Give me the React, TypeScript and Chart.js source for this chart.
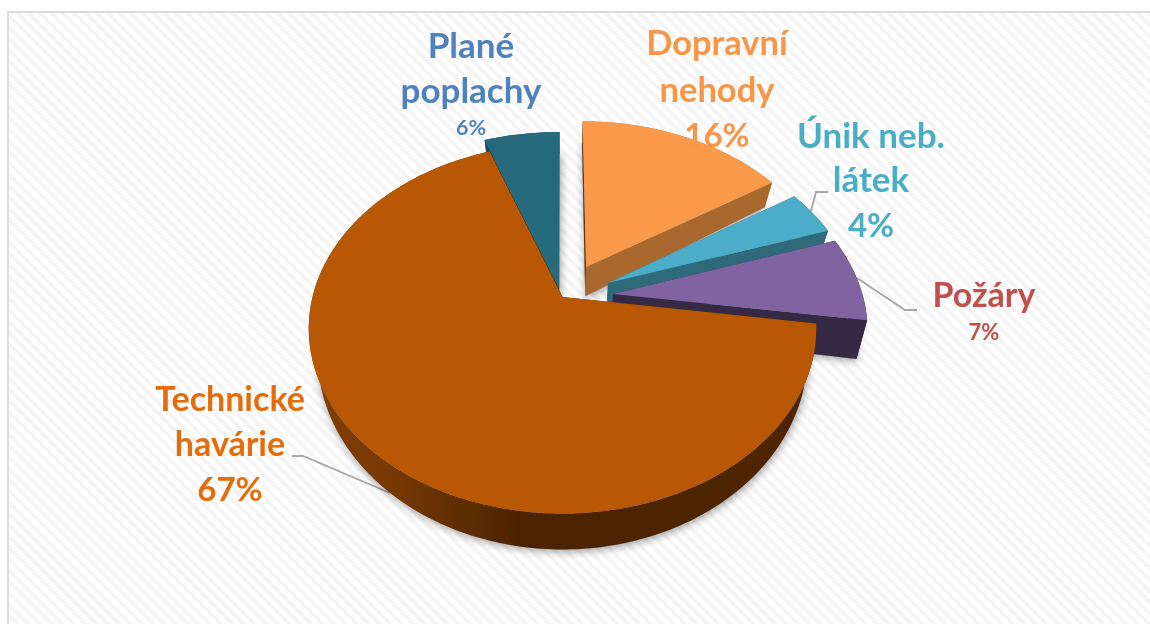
import React, { useEffect, useRef } from "react";
import Chart from "chart.js/auto";

const categories = ["Dopravní nehody", "Únik neb. látek", "Požáry", "Technické havárie", "Plané poplachy"];
const shares = [15.9, 4.0, 7.4, 67.2, 5.5];
const sliceColors = ["#fb994a", "#4badc7", "#8064a2", "#b85804", "#27697c"];

const labelColors = ["#f79646", "#4bacc6", "#c0504d", "#e46c0a", "#4f81bd"];

const slice3d = [
  { du: 0.097, dv: 0.172, scale: 1.003, depth: 31, startWall: "#5a3a1e", endWall: "#a8682e", outer: "#a8682e" },
  { du: 0.1845, dv: 0.079, scale: 1.0, depth: 32, startWall: "#2a5f6e", endWall: "#2f6a7a", outer: "#2f6a7a" },
  { du: 0.2026, dv: 0.0167, scale: 1.0, depth: 37, startWall: "#362944", endWall: "#362944", outer: "#362944" },
  { du: 0.0, dv: 0.0, scale: 1.0, depth: 24.7, startWall: "#5a2a02", endWall: "#5a2a02", outer: "gradient" },
  { du: -0.014, dv: 0.05, scale: 1.04, depth: 30, startWall: "#0f3a44", endWall: "#1a4c5a", outer: "#1a4c5a" },
];
const paintOrder = [4, 0, 1, 2, 3];

const view = { k: 0.171, squash: 0.718, converge: 0.035 };

const textBlocks = [
  { idx: 4, x: 471, lines: [["Plané", 47, 35], ["poplachy", 92, 35]], pct: [128, 21.5] },
  { idx: 0, x: 717, lines: [["Dopravní", 44, 34.5], ["nehody", 91, 34.5]], pct: [136, 33] },
  { idx: 1, x: 871, lines: [["Únik neb.", 137, 35], ["látek", 181, 35]], pct: [226, 33] },
  { idx: 2, x: 984, lines: [["Požáry", 296, 34]], pct: [333, 22] },
  { idx: 3, x: 230, lines: [["Technické", 400, 34], ["havárie", 445, 34]], pct: [490, 33] },
];
const leaders = [
  [[828, 192], [816, 192], [811, 211]],
  [[917, 310], [905, 310], [857, 278]],
  [[292, 456], [303, 456], [390, 493]],
];

const total = shares.reduce((a, b) => a + b, 0);

const pie3d = {
  id: "pie3d",
  beforeDatasetsDraw(chart: any) {
    const ctx = chart.ctx;
    const arcs = chart.getDatasetMeta(0).data;

    ctx.save();
    ctx.strokeStyle = "#a6a6a6";
    ctx.lineWidth = 1.8;
    for (const pts of leaders) {
      ctx.beginPath();
      pts.forEach((p, i) => (i ? ctx.lineTo(p[0], p[1]) : ctx.moveTo(p[0], p[1])));
      ctx.stroke();
    }
    ctx.restore();

    const proj = (arc: any, s: any, u: number, v: number, z: number) => {
      const R = arc.outerRadius;
      const uu = u + s.du;
      const vv = v + s.dv;
      const w = 1 + view.k * vv;
      const c = 1 - view.converge * z;
      return [
        arc.x + ((R * uu) / w) * c,
        arc.y - (R * view.squash * vv) / w + (z * s.depth) / (w * w),
      ];
    };
    const arcPts = (arc: any, s: any, z: number) => {
      const a0 = arc.startAngle + Math.PI / 2;
      const a1 = arc.endAngle + Math.PI / 2;
      const n = Math.max(8, Math.ceil((a1 - a0) * 60));
      const out = [];
      for (let i = 0; i <= n; i++) {
        const a = a0 + ((a1 - a0) * i) / n;
        out.push(proj(arc, s, Math.sin(a) * s.scale, Math.cos(a) * s.scale, z));
      }
      return out;
    };
    const fillPoly = (pts: number[][], fill: any) => {
      ctx.fillStyle = fill;
      ctx.beginPath();
      pts.forEach((p, i) => (i ? ctx.lineTo(p[0], p[1]) : ctx.moveTo(p[0], p[1])));
      ctx.closePath();
      ctx.fill();
    };

    // soft drop shadow on the page only
    ctx.save();
    ctx.shadowColor = "rgba(0,0,0,0.4)";
    ctx.shadowBlur = 9;
    ctx.shadowOffsetX = 1;
    ctx.shadowOffsetY = 2;
    for (const i of paintOrder) {
      const s = slice3d[i];
      const arc = arcs[i];
      fillPoly([proj(arc, s, 0, 0, 1), ...arcPts(arc, s, 1)], "#999");
    }
    ctx.restore();

    for (const i of paintOrder) {
      const s = slice3d[i];
      const arc = arcs[i];
      const top = arcPts(arc, s, 0);
      const bottom = arcPts(arc, s, 1);
      const tip0 = proj(arc, s, 0, 0, 0);
      const tip1 = proj(arc, s, 0, 0, 1);
      fillPoly([tip0, top[0], bottom[0], tip1], s.startWall);
      fillPoly([tip0, top[top.length - 1], bottom[bottom.length - 1], tip1], s.endWall);
      let outer: any = s.outer;
      if (outer === "gradient") {
        outer = ctx.createLinearGradient(arc.x - arc.outerRadius, 0, arc.x + arc.outerRadius, 0);
        outer.addColorStop(0, "#803e05");
        outer.addColorStop(0.15, "#783905");
        outer.addColorStop(0.3, "#5f2d03");
        outer.addColorStop(0.42, "#4b2300");
        outer.addColorStop(1, "#4f2500");
      }
      fillPoly([...top, ...bottom.slice().reverse()], outer);
      fillPoly([tip0, ...top], arc.options.backgroundColor);
    }
    return false;
  },
  afterDraw(chart: any) {
    const ctx = chart.ctx;
    ctx.save();
    ctx.textAlign = "center";
    ctx.textBaseline = "middle";
    for (const b of textBlocks) {
      ctx.fillStyle = labelColors[b.idx];
      for (const [text, y, size] of b.lines as any[]) {
        ctx.font = `bold ${size}px Lato`;
        ctx.fillText(text, b.x, y);
      }
      ctx.font = `bold ${b.pct[1]}px Lato`;
      ctx.fillText(`${Math.round((shares[b.idx] / total) * 100)}%`, b.x, b.pct[0]);
    }
    ctx.restore();
  },
};

export default function App() {
  const ref = useRef<HTMLCanvasElement | null>(null);
  useEffect(() => {
    document.body.style.margin = "0";
    const chart = new Chart(ref.current as HTMLCanvasElement, {
      type: "pie",
      data: {
        labels: categories,
        datasets: [{ data: shares, backgroundColor: sliceColors, borderWidth: 0 }],
      },
      options: {
        animation: false,
        responsive: false,
        rotation: 0,
        layout: { padding: { left: 312.5, right: 337.5, top: 47, bottom: 77 } },
        plugins: { legend: { display: false }, tooltip: { enabled: false } },
      },
      plugins: [pie3d],
    } as any);
    return () => chart.destroy();
  }, []);
  return (
    <div style={{ position: "relative", width: 1150, height: 624, overflow: "hidden", background: "#fff" }}>
      <div
        style={{
          position: "absolute",
          left: 7,
          top: 11,
          right: 0,
          bottom: 0,
          borderLeft: "2px solid #dcdcdc",
          borderTop: "2px solid #dcdcdc",
          background: "repeating-linear-gradient(45deg, #ffffff 0 4px, #f5f5f5 4px 8px)",
        }}
      />
      <canvas ref={ref} width={1150} height={624} style={{ position: "absolute", left: 0, top: 0 }} />
    </div>
  );
}
